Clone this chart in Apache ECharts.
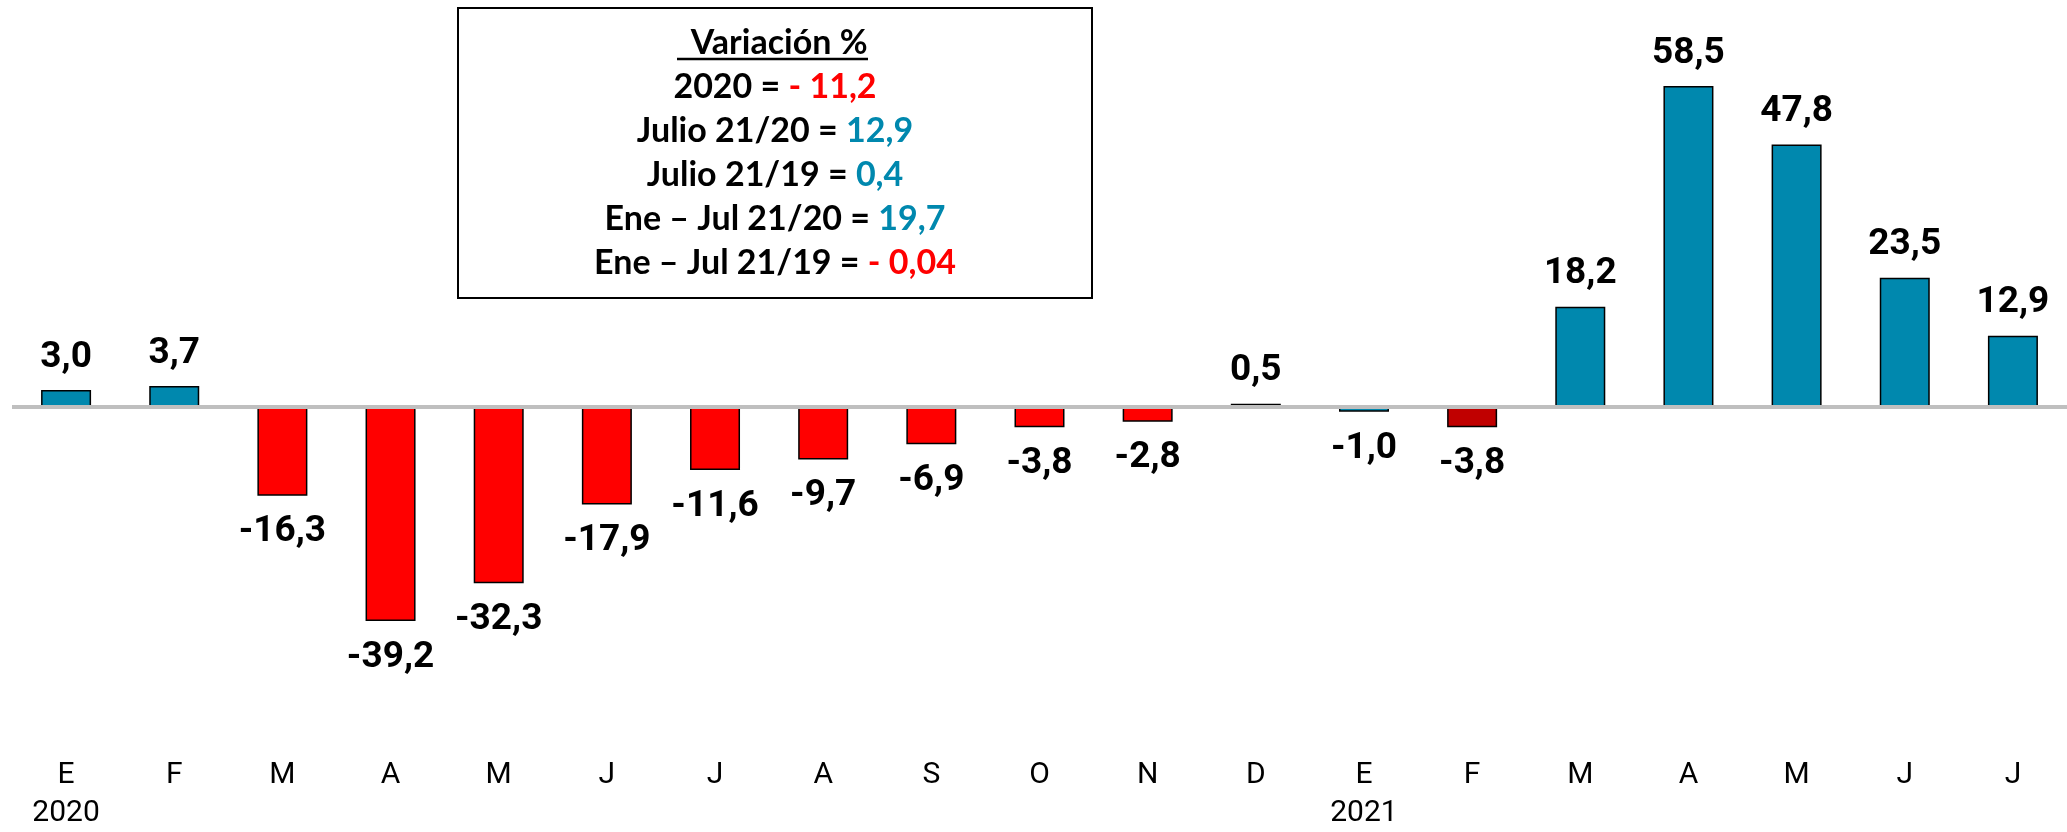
<!DOCTYPE html>
<html>
<head>
<meta charset="utf-8">
<script src="https://cdn.jsdelivr.net/npm/echarts@6/dist/echarts.min.js"></script>
<style>
  html, body { margin: 0; padding: 0; background: #fff; }
  #chart { width: 2067px; height: 832px; }
</style>
</head>
<body>
<div id="chart"></div>
<script>
// meses (E 2020 .. J 2021)
var months = ['E', 'F', 'M', 'A', 'M', 'J', 'J', 'A', 'S', 'O', 'N', 'D', 'E', 'F', 'M', 'A', 'M', 'J', 'J'];
var years = ['2020', '', '', '', '', '', '', '', '', '', '', '', '2021', '', '', '', '', '', ''];
var variacion = [3.0, 3.7, -16.3, -39.2, -32.3, -17.9, -11.6, -9.7, -6.9, -3.8, -2.8, 0.5, -1.0, -3.8, 18.2, 58.5, 47.8, 23.5, 12.9];

// cuadro de resumen
var resumenLabels = ['2020 = ', 'Julio 21/20 = ', 'Julio 21/19 = ', 'Ene \u2013 Jul 21/20 = ', 'Ene \u2013 Jul 21/19 = '];
var resumenValues = ['- 11,2', '12,9', '0,4', '19,7', '- 0,04'];

var AZUL = '#0088ae';
var ROJO = '#ff0000';
var ROJO_OSC = '#c00000';
var barColors = variacion.map(function (v, i) {
    if (i === 13) return ROJO_OSC;
    if (i === 12) return AZUL;
    return v < 0 ? ROJO : AZUL;
});

var fmt = function (v) {
    return v.toFixed(1).replace('.', ',');
};

var barData = variacion.map(function (v, i) {
    return {
        value: v,
        itemStyle: { color: barColors[i] },
        label: { position: v < 0 ? 'bottom' : 'top', distance: v < 0 ? 18 : 14 }
    };
});

var boxText = '{t| Variación %}';
resumenLabels.forEach(function (lbl, i) {
    var neg = resumenValues[i].charAt(0) === '-';
    boxText += '\n{k|' + lbl + '}{' + (neg ? 'r' : 'b') + '|' + resumenValues[i] + '}';
});

var txt = function (fill) {
    return { fontFamily: 'Lato', fontWeight: 'bold', fontSize: 34, fill: fill, lineHeight: 44 };
};

var myChart = echarts.init(document.getElementById('chart'));
myChart.setOption({
    animation: false,
    backgroundColor: '#ffffff',
    grid: { left: 12, top: 23, width: 2063, height: 715, containLabel: false },
    xAxis: {
        type: 'category',
        data: months,
        position: 'bottom',
        axisLine: { show: false, onZero: false },
        axisTick: { show: false },
        axisLabel: {
            margin: 21,
            fontFamily: 'Roboto',
            fontSize: 30,
            color: '#000',
            lineHeight: 38,
            formatter: function (v, i) {
                return years[i] ? v + '\n' + years[i] : v;
            }
        }
    },
    yAxis: {
        type: 'value',
        min: -60,
        max: 70,
        show: false,
        splitLine: { show: false }
    },
    series: [{
        type: 'bar',
        data: barData,
        barWidth: 50,
        itemStyle: { borderColor: '#000', borderWidth: 1.5 },
        label: {
            show: true,
            fontFamily: 'Roboto',
            fontWeight: 'bold',
            fontSize: 37,
            color: '#000',
            formatter: function (p) { return fmt(p.value); }
        },
        markLine: {
            silent: true,
            symbol: 'none',
            label: { show: false },
            lineStyle: { color: '#bfbfbf', width: 4, type: 'solid' },
            data: [{ yAxis: 0 }]
        }
    }],
    graphic: [
        {
            type: 'rect',
            shape: { x: 458, y: 8, width: 634, height: 290 },
            style: { fill: '#fff', stroke: '#000', lineWidth: 2 },
            z: 10
        },
        {
            type: 'text',
            x: 775,
            y: 153,
            z: 11,
            style: {
                text: boxText,
                align: 'center',
                verticalAlign: 'middle',
                fontFamily: 'Lato',
                fontWeight: 'bold',
                fontSize: 34,
                lineHeight: 44,
                fill: '#000',
                rich: {
                    t: txt('#000'),
                    k: txt('#000'),
                    r: txt(ROJO),
                    b: txt(AZUL)
                }
            }
        },
        {
            type: 'line',
            z: 11,
            shape: { x1: 677, y1: 59, x2: 868, y2: 59 },
            style: { stroke: '#000', lineWidth: 2.5 }
        }
    ]
});
</script>
</body>
</html>
